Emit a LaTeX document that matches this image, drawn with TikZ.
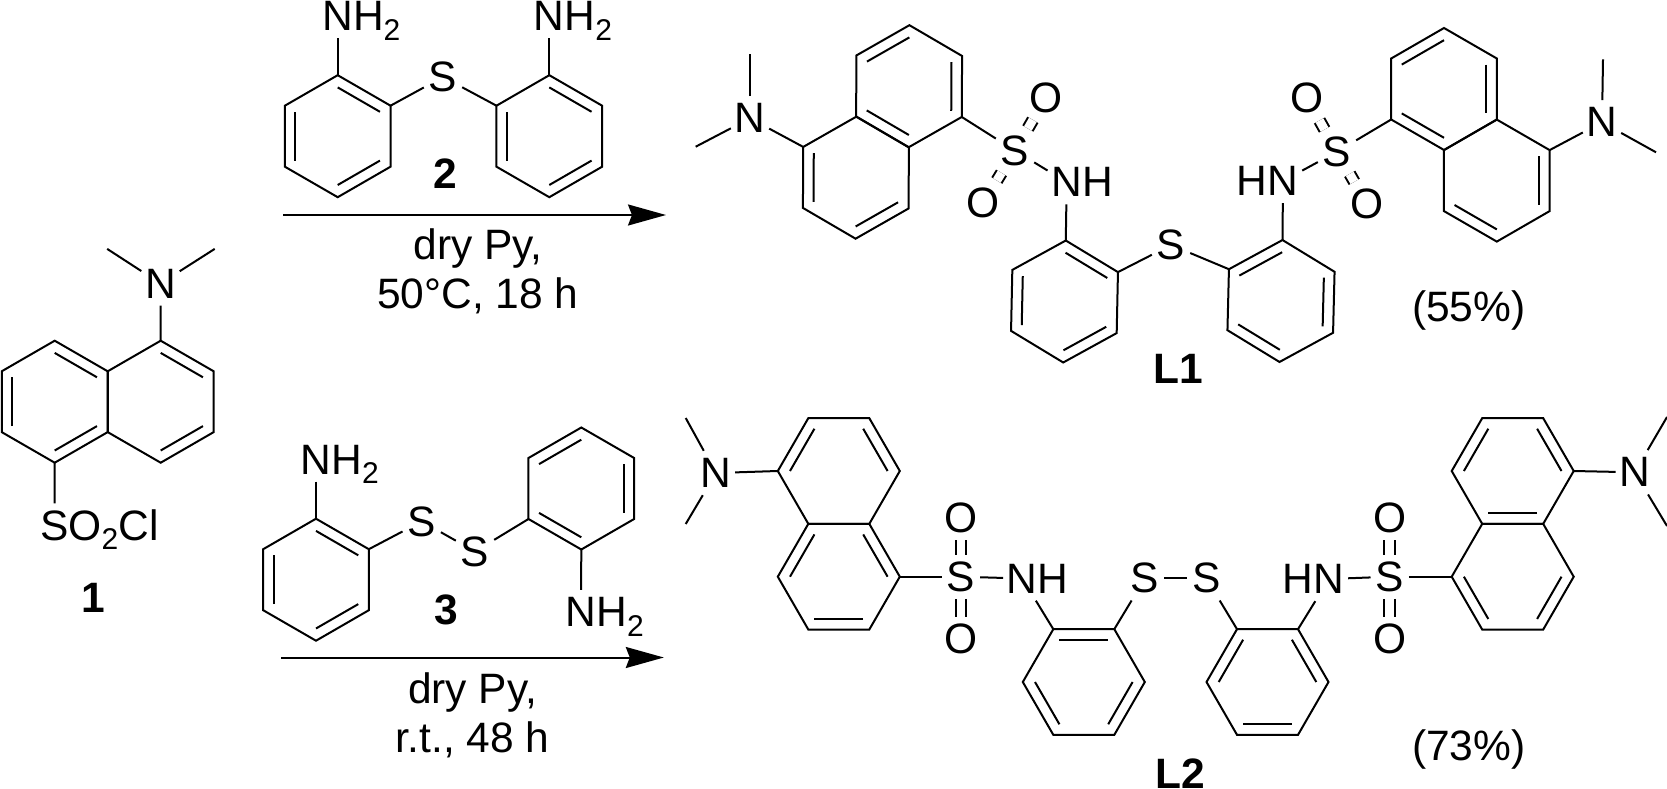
\documentclass[tikz,border=0pt]{standalone}
\usepackage{fontspec}
\setmainfont{Liberation Sans}
\usetikzlibrary{calc,arrows.meta}
\newdimen\labw
\newbox\labbox
\newcommand\atomlab[3]{\setbox\labbox=\hbox{#2}\labw=\wd\labbox\relax\kern-.5\labw\smash{\llap{#1}}\box\labbox\smash{\rlap{#3}}\kern-.5\labw}
\newcommand\subtwo{\raisebox{-9.5pt}{\fontsize{30}{30}\selectfont 2}}
\newcommand\hexr[4]{%
  \coordinate (#1c) at (#2,#3);
  \foreach \i in {1,...,6} {\coordinate (#1\i) at ($(#2,#3)+({#4+60*(\i-1)}:61)$);}
  \draw[bond] (#11)--(#12)--(#13)--(#14)--(#15)--(#16)--cycle;}
\newcommand\inbond[3]{\draw[bond] ($(#1c)!0.8!(#1#2)$) -- ($(#1c)!0.8!(#1#3)$);}
\tikzset{
  bond/.style={line width=2pt,line cap=butt,line join=miter,draw=black},
  dblbond/.style={line width=2pt,double=white,double distance=8.8pt,draw=black},
  atom/.style={rectangle,minimum width=38pt,minimum height=44pt,inner sep=0pt,font=\fontsize{42.5}{46}\selectfont},
  txt/.style={inner sep=0pt,anchor=base,font=\fontsize{42.5}{46}\selectfont},
  boldtxt/.style={inner sep=0pt,anchor=base,font=\fontsize{42.5}{46}\selectfont\bfseries},
  rxn/.style={line width=2pt,-{Stealth[length=38pt,width=21pt,inset=4pt]}}
}
\begin{document}
\begin{tikzpicture}[x=1pt,y=-1pt]
\useasboundingbox (0,0) rectangle (1667,789);
\fill[white] (0,0) rectangle (1667,789);

% ---------- compound 1
\hexr{pa}{54.7}{401.7}{-90}
\hexr{pb}{160.7}{401.7}{-90}
\inbond{pa}{1}{2}\inbond{pa}{3}{4}\inbond{pa}{5}{6}
\inbond{pb}{1}{2}\inbond{pb}{3}{4}
\node[atom] (Np) at (160.5,283.5) {\atomlab{}{N}{}};
\coordinate (Mp1) at (107.2,248.9);
\coordinate (Mp2) at (214.7,248.9);
\draw[bond] (Np)--(pb1);
\draw[bond] (Np)--(Mp1);
\draw[bond] (Np)--(Mp2);
\node[atom] (Sp) at (54.5,525.5) {\atomlab{}{S}{O\subtwo Cl}};
\draw[bond] (pa4)--(Sp);
\node[boldtxt] (one) at (93.3,612.8) {1};

% ---------- compound 2
\hexr{qa}{337.7}{136.2}{-90}
\hexr{qb}{549.3}{136.2}{-90}
\inbond{qa}{1}{2}\inbond{qa}{3}{4}\inbond{qa}{5}{6}
\inbond{qb}{1}{2}\inbond{qb}{3}{4}\inbond{qb}{5}{6}
\node[atom] (Nqa) at (337.7,16.2) {\atomlab{}{N}{H\subtwo}};
\node[atom] (Nqb) at (549.3,16.2) {\atomlab{}{N}{H\subtwo}};
\node[atom] (Sq) at (443,77) {\atomlab{}{S}{}};
\draw[bond] (Nqa)--(qa1);
\draw[bond] (Nqb)--(qb1);
\draw[bond] (qa2)--(Sq);
\draw[bond] (Sq)--(qb6);
\node[boldtxt] (two) at (445,188) {2};

% ---------- arrow 1
\coordinate (Aa) at (283.3,215);
\coordinate (Ab) at (666,215);
\draw[rxn] (Aa)--(Ab);
\node[txt] (ca) at (478,259) {dry Py,};
\node[txt] (cb) at (478,308) {50°C, 18 h};

% ---------- compound 3
\hexr{ra}{316}{579.7}{-90}
\hexr{rb}{581.3}{488.5}{-90}
\inbond{ra}{1}{2}\inbond{ra}{3}{4}\inbond{ra}{5}{6}
\inbond{rb}{6}{1}\inbond{rb}{2}{3}\inbond{rb}{4}{5}
\node[atom] (Nra) at (316,459.5) {\atomlab{}{N}{H\subtwo}};
\node[atom] (Nrb) at (581,612) {\atomlab{}{N}{H\subtwo}};
\node[atom] (Sra) at (421.7,521.4) {\atomlab{}{S}{}};
\node[atom] (Srb) at (475,551.5) {\atomlab{}{S}{}};
\draw[bond] (Nra)--(ra1);
\draw[bond] (Nrb)--(rb4);
\draw[bond] (ra2)--(Sra);
\draw[bond] (Sra)--(Srb);
\draw[bond] (Srb)--(rb5);
\node[boldtxt] (three) at (446,624.8) {3};

% ---------- arrow 2
\coordinate (Ac) at (281,657.5);
\coordinate (Ad) at (663.8,657.5);
\draw[rxn] (Ac)--(Ad);
\node[txt] (cc) at (472.6,703.8) {dry Py,};
\node[txt] (cd) at (472.6,752) {r.t., 48 h};

% ---------- L1
\hexr{a}{909.1}{86.2}{-89.7}
\hexr{b}{855.9}{177.7}{-89.7}
\inbond{a}{6}{1}\inbond{a}{2}{3}\inbond{a}{4}{5}
\inbond{b}{5}{6}\inbond{b}{3}{4}
\node[atom] (Na) at (750,118.3) {\atomlab{}{N}{}};
\coordinate (Maa) at (750,54.3);
\coordinate (Mab) at (695.7,146.7);
\draw[bond] (Na)--(b6);
\draw[bond] (Na)--(Maa);
\draw[bond] (Na)--(Mab);
\node[atom] (Sa) at (1015,150.7) {\atomlab{}{S}{}};
\node[atom] (Oaa) at (1045.7,97.7) {\atomlab{}{O}{}};
\node[atom] (Oab) at (983.3,202.7) {\atomlab{}{O}{}};
\node[atom] (NHa) at (1066.7,182.2) {\atomlab{}{N}{H}};
\draw[bond] (a3)--(Sa);
\draw[dblbond] (Sa)--(Oaa);
\draw[dblbond] (Sa)--(Oab);
\draw[bond] (Sa)--(NHa);
\hexr{c}{1064.5}{301.5}{-88.8}
\inbond{c}{1}{2}\inbond{c}{3}{4}\inbond{c}{5}{6}
\draw[bond] (NHa)--(c1);
\node[atom] (Sm) at (1171,245) {\atomlab{}{S}{}};
\hexr{d}{1281}{301}{-88.6}
\inbond{d}{6}{1}\inbond{d}{2}{3}\inbond{d}{4}{5}
\draw[bond] (c2)--(Sm);
\draw[bond] (Sm)--(d6);
\node[atom] (NHb) at (1283,181) {\atomlab{H}{N}{}};
\draw[bond] (NHb)--(d1);
\node[atom] (Sb) at (1337,151.7) {\atomlab{}{S}{}};
\node[atom] (Oba) at (1307,98.3) {\atomlab{}{O}{}};
\node[atom] (Obb) at (1367,204) {\atomlab{}{O}{}};
\draw[bond] (NHb)--(Sb);
\draw[dblbond] (Sb)--(Oba);
\draw[dblbond] (Sb)--(Obb);
\hexr{e}{1444}{89}{-90}
\hexr{f}{1496.8}{180.6}{-90}
\inbond{e}{6}{1}\inbond{e}{2}{3}\inbond{e}{4}{5}
\inbond{f}{2}{3}\inbond{f}{4}{5}
\draw[bond] (Sb)--(e5);
\node[atom] (Nb) at (1602,122.3) {\atomlab{}{N}{}};
\coordinate (Mba) at (1603,59.3);
\coordinate (Mbb) at (1656,152.3);
\draw[bond] (Nb)--(f2);
\draw[bond] (Nb)--(Mba);
\draw[bond] (Nb)--(Mbb);
\node[txt] (ya) at (1468.7,321.7) {(55\%)};
\node[boldtxt] (La) at (1178.7,383.3) {L1};

% ---------- L2
\hexr{g}{838.8}{471}{-120}
\hexr{h}{838.8}{576.7}{-120}
\inbond{g}{6}{1}\inbond{g}{2}{3}
\inbond{h}{6}{1}\inbond{h}{2}{3}\inbond{h}{4}{5}
\node[atom] (Ng) at (716,473) {\atomlab{}{N}{}};
\coordinate (Mga) at (685.7,418);
\coordinate (Mgb) at (685.7,524);
\draw[bond] (Ng)--(g6);
\draw[bond] (Ng)--(Mga);
\draw[bond] (Ng)--(Mgb);
\node[atom] (Sg) at (961,576.7) {\atomlab{}{S}{}};
\node[atom] (Oga) at (961,518) {\atomlab{}{O}{}};
\node[atom] (Ogb) at (961,639) {\atomlab{}{O}{}};
\node[atom] (NHg) at (1022.3,578.5) {\atomlab{}{N}{H}};
\draw[bond] (h3)--(Sg);
\draw[dblbond] (Sg)--(Oga);
\draw[dblbond] (Sg)--(Ogb);
\draw[bond] (Sg)--(NHg);
\hexr{i}{1083.8}{682}{-120}
\inbond{i}{1}{2}\inbond{i}{3}{4}\inbond{i}{5}{6}
\draw[bond] (NHg)--(i1);
\node[atom] (Ssa) at (1145,578.3) {\atomlab{}{S}{}};
\node[atom] (Ssb) at (1206.3,578.3) {\atomlab{}{S}{}};
\draw[bond] (i2)--(Ssa);
\draw[bond] (Ssa)--(Ssb);
\hexr{j}{1267.5}{682}{-120}
\inbond{j}{6}{1}\inbond{j}{2}{3}\inbond{j}{4}{5}
\draw[bond] (Ssb)--(j1);
\node[atom] (NHk) at (1329,579) {\atomlab{H}{N}{}};
\draw[bond] (NHk)--(j2);
\node[atom] (Sk) at (1389.7,576.7) {\atomlab{}{S}{}};
\node[atom] (Oka) at (1389.7,518) {\atomlab{}{O}{}};
\node[atom] (Okb) at (1389.7,639) {\atomlab{}{O}{}};
\draw[bond] (NHk)--(Sk);
\draw[dblbond] (Sk)--(Oka);
\draw[dblbond] (Sk)--(Okb);
\hexr{k}{1512.7}{471}{-120}
\hexr{l}{1512.7}{576.7}{-120}
\inbond{k}{6}{1}\inbond{k}{2}{3}\inbond{k}{4}{5}
\inbond{l}{3}{4}\inbond{l}{5}{6}
\draw[bond] (Sk)--(l6);
\node[atom] (Nk) at (1634.7,472.3) {\atomlab{}{N}{}};
\coordinate (Mka) at (1667,417);
\coordinate (Mkb) at (1667,526);
\draw[bond] (Nk)--(k3);
\draw[bond] (Nk)--(Mka);
\draw[bond] (Nk)--(Mkb);
\node[txt] (yb) at (1468.7,760.7) {(73\%)};
\node[boldtxt] (Lb) at (1180.5,788) {L2};
\end{tikzpicture}
\end{document}
